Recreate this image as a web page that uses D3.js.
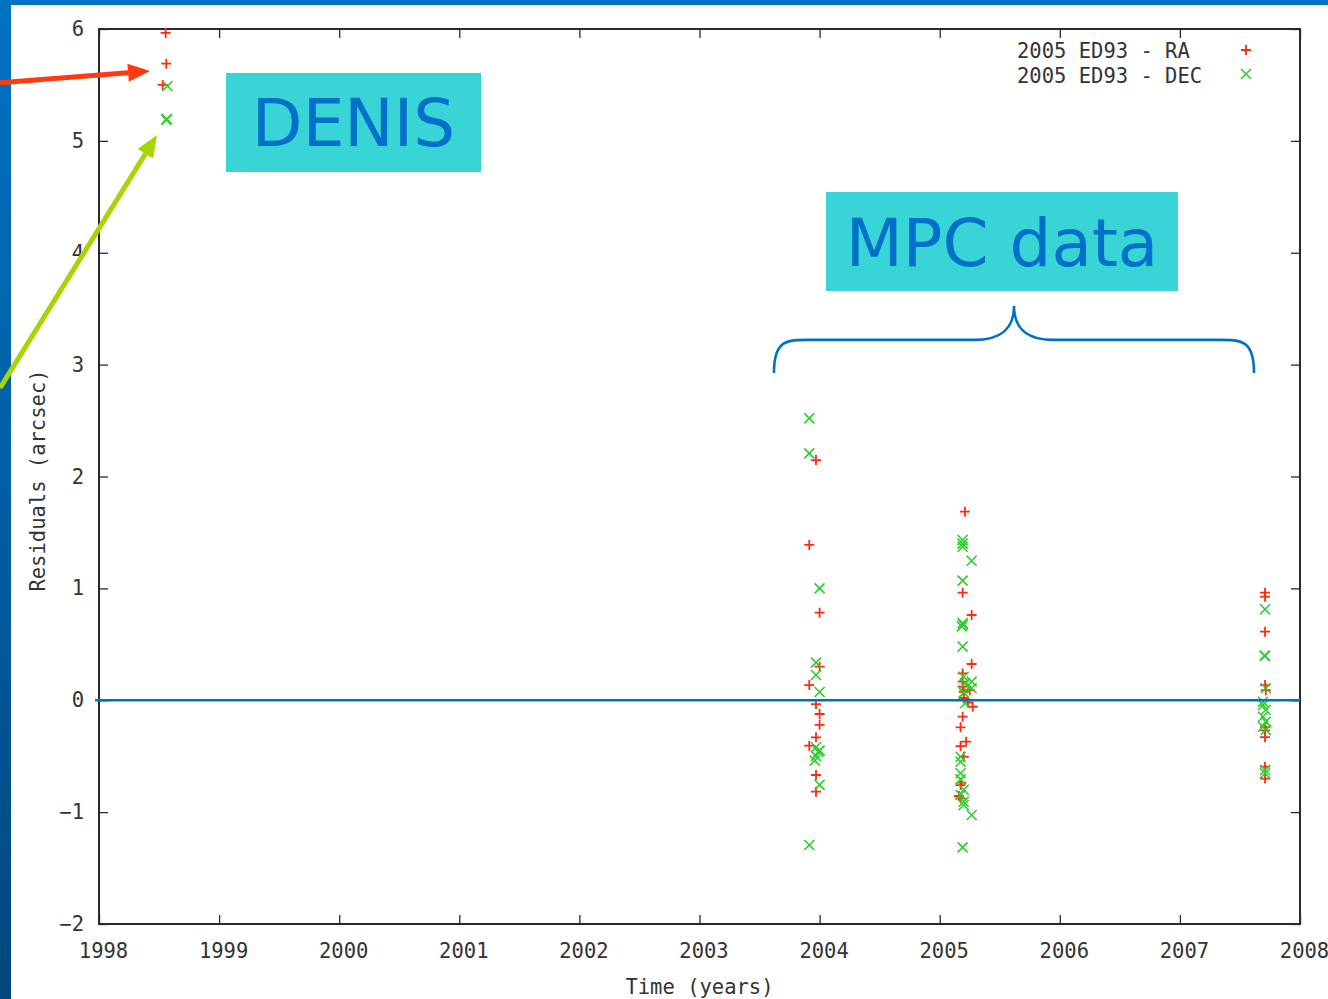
<!DOCTYPE html>
<html>
<head>
<meta charset="utf-8">
<script src="https://cdn.jsdelivr.net/npm/d3@7"></script>
<style>
html,body{margin:0;padding:0;width:1328px;height:999px;overflow:hidden;
  background:linear-gradient(to bottom,#0072c2 0%,#005a9e 60%,#00467d 100%);}
svg{display:block;}
</style>
</head>
<body>
<script>
// ---------------- data ----------------
const xTicks = [1998,1999,2000,2001,2002,2003,2004,2005,2006,2007,2008];
const yTicks = [-2,-1,0,1,2,3,4,5,6];
const seriesNames = ["2005 ED93 - RA","2005 ED93 - DEC"];

// Right ascension residuals [time (yr), residual (arcsec)]
const raPoints = [
  [1998.555,5.965],[1998.56,5.69],[1998.53,5.50],
  [2003.97,2.147],[2003.914,1.388],[2004.0,0.783],[2004.0,0.30],[2003.914,0.136],
  [2003.97,-0.034],[2004.0,-0.123],[2004.0,-0.22],[2003.97,-0.331],[2003.914,-0.406],
  [2003.97,-0.668],[2003.97,-0.817],
  [2005.21,1.686],[2005.191,0.962],[2005.266,0.762],[2005.266,0.324],[2005.191,0.24],
  [2005.191,0.166],[2005.191,0.121],[2005.2,0.076],[2005.25,0.09],[2005.2,0.02],
  [2005.235,-0.02],[2005.275,-0.058],[2005.191,-0.147],[2005.174,-0.242],[2005.22,-0.37],
  [2005.174,-0.41],[2005.2,-0.505],[2005.18,-0.737],[2005.174,-0.758],[2005.16,-0.856],
  [2005.174,-0.877],
  [2007.709,0.962],[2007.709,0.926],[2007.709,0.613],[2007.709,0.136],[2007.715,0.09],
  [2007.709,-0.24],[2007.709,-0.27],[2007.709,-0.33],[2007.709,-0.594],[2007.709,-0.70]
];
// Declination residuals [time (yr), residual (arcsec)]
const decPoints = [
  [1998.57,5.49],[1998.56,5.19],[1998.565,5.195],
  [2003.914,2.52],[2003.914,2.207],[2004.0,1.0],[2003.97,0.336],[2003.97,0.226],
  [2004.0,0.074],[2003.97,-0.42],[2003.99,-0.46],[2003.97,-0.50],[2004.0,-0.45],
  [2003.96,-0.54],[2004.0,-0.757],[2003.914,-1.294],
  [2005.191,1.432],[2005.191,1.40],[2005.191,1.372],[2005.266,1.247],[2005.191,1.069],
  [2005.191,0.69],[2005.185,0.66],[2005.195,0.675],[2005.191,0.479],[2005.2,0.21],
  [2005.266,0.166],[2005.21,0.151],[2005.266,0.107],[2005.2,0.068],[2005.21,-0.027],
  [2005.174,-0.505],[2005.174,-0.55],[2005.174,-0.653],[2005.174,-0.707],[2005.2,-0.80],
  [2005.174,-0.847],[2005.2,-0.907],[2005.2,-0.936],[2005.266,-1.026],[2005.191,-1.315],
  [2007.709,0.813],[2007.709,0.396],[2007.705,0.40],[2007.715,0.107],[2007.692,-0.013],
  [2007.692,-0.042],[2007.715,-0.087],[2007.692,-0.147],[2007.715,-0.192],[2007.692,-0.237],
  [2007.715,-0.266],[2007.709,-0.623],[2007.709,-0.653]
];

// annotations (data coordinates)
const denisBox = {x0:1999.057,x1:2001.181,y0:5.607,y1:4.722,label:"DENIS"};
const mpcBox   = {x0:2004.053,x1:2006.984,y0:4.543,y1:3.658,label:"MPC data"};
const redArrow   = {from:[1997.176,5.519],to:[1998.425,5.624]};
const greenArrow = {from:[1997.176,2.791],to:[1998.483,5.052]};
const brace = {xl:2003.62,xr:2007.617,xc:2005.619,yEnd:2.926,yBar:3.221,yTip:3.524};

// ---------------- layout ----------------
const W=1328,H=999;
const M={left:99,right:1300,top:29,bottom:924};
const RED="#ff2a10", GREEN="#2ecc2e", BLUE="#0070c8", AXIS="#2a2a2a";
const MONO="'DejaVu Sans Mono', 'Liberation Mono', monospace";
const FS="20.5px", TXT="#333";

const svg=d3.select("body").append("svg").attr("width",W).attr("height",H);
// white slide area
svg.append("rect").attr("x",11).attr("y",5).attr("width",W-11).attr("height",H-5).attr("fill","#fff");

const x=d3.scaleLinear().domain([1998,2008]).range([M.left,M.right]);
const y=d3.scaleLinear().domain([-2,6]).range([M.bottom,M.top]);

// axes (gnuplot style: inward ticks on all sides)
const gx=svg.append("g").attr("transform",`translate(0,${M.bottom})`)
  .call(d3.axisBottom(x).tickValues(xTicks).tickFormat(d3.format("d")).tickSizeInner(-9).tickSizeOuter(0).tickPadding(19.5));
const gy=svg.append("g").attr("transform",`translate(${M.left},0)`)
  .call(d3.axisLeft(y).tickValues(yTicks).tickFormat(d3.format("d")).tickSizeInner(-9).tickSizeOuter(0).tickPadding(15));
const gt=svg.append("g").attr("transform",`translate(0,${M.top})`)
  .call(d3.axisTop(x).tickValues(xTicks).tickFormat("").tickSizeInner(-9).tickSizeOuter(0));
const gr=svg.append("g").attr("transform",`translate(${M.right},0)`)
  .call(d3.axisRight(y).tickValues(yTicks).tickFormat("").tickSizeInner(-9).tickSizeOuter(0));
[gx,gy,gt,gr].forEach(g=>{
  g.select(".domain").remove();
  g.selectAll("line").attr("stroke",AXIS).attr("stroke-width",1.3);
  g.selectAll("text").attr("font-family",MONO).attr("font-size",FS).attr("fill",TXT);
});
gx.selectAll("text").attr("dx",4);

svg.append("rect").attr("x",M.left).attr("y",M.top)
  .attr("width",M.right-M.left).attr("height",M.bottom-M.top)
  .attr("fill","none").attr("stroke",AXIS).attr("stroke-width",2);

// axis titles
svg.append("text").attr("x",(M.left+M.right)/2).attr("y",994).attr("text-anchor","middle")
  .attr("font-family",MONO).attr("font-size",FS).attr("fill",TXT).text("Time (years)");
svg.append("text").attr("transform",`translate(45,${(M.top+M.bottom)/2+4}) rotate(-90)`)
  .attr("text-anchor","middle").attr("font-family",MONO).attr("font-size",FS).attr("fill",TXT)
  .text("Residuals (arcsec)");

// markers
const s=5;
function plus(g,cx,cy){g.append("path").attr("d",`M${cx-s},${cy}H${cx+s}M${cx},${cy-s}V${cy+s}`)
  .attr("stroke",RED).attr("stroke-width",1.8).attr("fill","none");}
function cross(g,cx,cy){g.append("path").attr("d",`M${cx-s},${cy-s}L${cx+s},${cy+s}M${cx-s},${cy+s}L${cx+s},${cy-s}`)
  .attr("stroke",GREEN).attr("stroke-width",1.6).attr("fill","none");}

const gp=svg.append("g");
raPoints.forEach(d=>plus(gp,x(d[0]),y(d[1])));
decPoints.forEach(d=>cross(gp,x(d[0]),y(d[1])));

// legend
const lg=svg.append("g");
seriesNames.forEach((n,i)=>{
  lg.append("text").attr("x",1017).attr("y",58+25*i).attr("font-family",MONO)
    .attr("font-size",FS).attr("fill",TXT).text(n);
});
plus(lg,1246,50); cross(lg,1246,74);

// zero line
svg.append("line").attr("x1",M.left-4).attr("x2",M.right).attr("y1",y(0)).attr("y2",y(0))
  .attr("stroke",BLUE).attr("stroke-width",2.6);

// annotation boxes
[denisBox,mpcBox].forEach(b=>{
  const bx=x(b.x0),bw=x(b.x1)-x(b.x0),by=y(b.y0),bh=y(b.y1)-y(b.y0);
  svg.append("rect").attr("x",bx).attr("y",by).attr("width",bw).attr("height",bh).attr("fill","#39d4d6");
  svg.append("text").attr("x",bx+bw/2).attr("y",by+bh/2+24).attr("text-anchor","middle")
    .attr("font-family","'DejaVu Sans', Verdana, sans-serif").attr("font-size","66px")
    .attr("fill",BLUE).text(b.label);
});

// brace
{
  const xl=x(brace.xl),xr=x(brace.xr),xc=x(brace.xc),ye=y(brace.yEnd),yb=y(brace.yBar),yt=y(brace.yTip);
  const p=`M${xl},${ye} C${xl},${yb-2} ${xl+14},${yb} ${xl+40},${yb} L${xc-40},${yb} C${xc-14},${yb} ${xc},${yb-10} ${xc},${yt}`+
          ` C${xc},${yb-10} ${xc+14},${yb} ${xc+40},${yb} L${xr-40},${yb} C${xr-14},${yb} ${xr},${yb-2} ${xr},${ye}`;
  svg.append("path").attr("d",p).attr("fill","none").attr("stroke",BLUE).attr("stroke-width",2.6);
}

// arrows
function arrow(a,color){
  const x1=x(a.from[0]),y1=y(a.from[1]),x2=x(a.to[0]),y2=y(a.to[1]);
  const ang=Math.atan2(y2-y1,x2-x1),L=22,hw=9;
  const bx=x2-L*Math.cos(ang),by=y2-L*Math.sin(ang);
  svg.append("line").attr("x1",x1).attr("y1",y1).attr("x2",bx).attr("y2",by)
    .attr("stroke",color).attr("stroke-width",5);
  const px=-Math.sin(ang),py=Math.cos(ang);
  svg.append("path").attr("d",`M${x2},${y2}L${bx+hw*px},${by+hw*py}L${bx-hw*px},${by-hw*py}Z`).attr("fill",color);
}
arrow(redArrow,"#ff3a10");
arrow(greenArrow,"#a8d400");
</script>
</body>
</html>
